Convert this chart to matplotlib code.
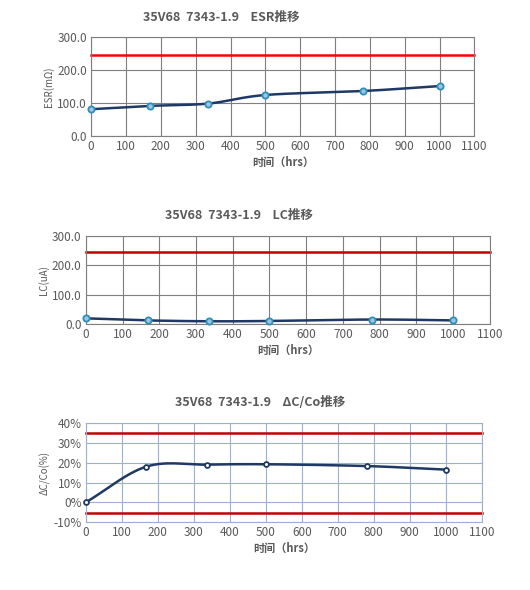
import numpy as np
import matplotlib
matplotlib.use("Agg")
import matplotlib.pyplot as plt
from matplotlib.ticker import FuncFormatter

plt.rcParams["font.family"] = ["Noto Sans CJK SC", "DejaVu Sans"]

hours = [0, 168, 336, 500, 780, 1000]
esr = [82, 92, 99, 125, 137, 152]
lc = [19, 12, 9, 10, 15, 12]
dc = [0, 18, 19, 19.2, 18.3, 16.5]
esr_limit = 245
lc_limit = 245
dc_limits = [35, -5.5]


def smooth(x, y, n=30):
  # Catmull-Rom curve through the points, like Excel's smoothed line
  x = np.asarray(x, float); y = np.asarray(y, float)
  px = np.concatenate([[2 * x[0] - x[1]], x, [2 * x[-1] - x[-2]]])
  py = np.concatenate([[2 * y[0] - y[1]], y, [2 * y[-1] - y[-2]]])
  xs, ys = [], []
  t = np.linspace(0, 1, n)
  for i in range(1, len(px) - 2):
    for p, out in ((px, xs), (py, ys)):
      p0, p1, p2, p3 = p[i - 1:i + 3]
      out.extend(0.5 * (2 * p1 + (-p0 + p2) * t + (2 * p0 - 5 * p1 + 4 * p2 - p3) * t ** 2
                        + (-p0 + 3 * p1 - 3 * p2 + p3) * t ** 3))
  return xs, ys


fig = plt.figure(figsize=(5.3, 5.9), dpi=100)
txt = "#595959"
specs = [
    ([0.172, 0.769, 0.723, 0.168], esr, [esr_limit], "ESR(mΩ)", "35V68  7343-1.9    ESR推移",
     (0, 300), 100, "#7f7f7f", "#ff0000", "#2e8fb5", 4.5, 0.34),
    ([0.162, 0.451, 0.762, 0.149], lc, [lc_limit], "LC(uA)", "35V68  7343-1.9    LC推移",
     (0, 300), 100, "#7f7f7f", "#c00000", "#2e8fb5", 4.5, 0.38),
    ([0.162, 0.115, 0.747, 0.168], dc, dc_limits, "ΔC/Co(%)", "35V68  7343-1.9    ΔC/Co推移",
     (-10, 40), 10, "#9dafd6", "#c00000", "#1f3864", 3.5, 0.44),
]
for i, (pos, vals, lims, ylab, title, ylim, step, gc, lcol, mcol, ms, tx) in enumerate(specs):
  ax = fig.add_axes(pos)
  ax.set_xlim(0, 1100)
  ax.set_ylim(*ylim)
  ax.set_xticks(range(0, 1101, 100))
  ax.set_yticks(np.arange(ylim[0], ylim[1] + 0.1, step))
  if i == 2:
    ax.yaxis.set_major_formatter(FuncFormatter(lambda v, p: f"{v:.0f}%"))
  else:
    ax.yaxis.set_major_formatter(FuncFormatter(lambda v, p: f"{v:.1f}"))
  ax.grid(True, color=gc, linewidth=0.8)
  ax.set_axisbelow(True)
  for s in ax.spines.values():
    s.set_color(gc)
  ax.tick_params(length=0, labelsize=8.5, colors=txt, pad=3)
  for lim in lims:
    ax.axhline(lim, color=lcol, linewidth=1.8, clip_on=False)
  sx, sy = smooth(hours, vals)
  ax.plot(sx, sy, color="#203864", linewidth=1.8, zorder=3)
  ax.plot(hours, vals, "o", ms=ms, mfc="white" if i == 2 else "#9dc3e6",
          mec=mcol, mew=1.3, zorder=4, clip_on=False)
  ax.set_ylabel(ylab, fontsize=7, color=txt, labelpad=2)
  ax.set_xlabel("时间（hrs）", fontsize=8, fontweight="bold", color=txt, labelpad=2)
  ax.set_title(title, fontsize=9, fontweight="bold", color=txt, pad=12, x=tx)

fig.savefig("out.png")
